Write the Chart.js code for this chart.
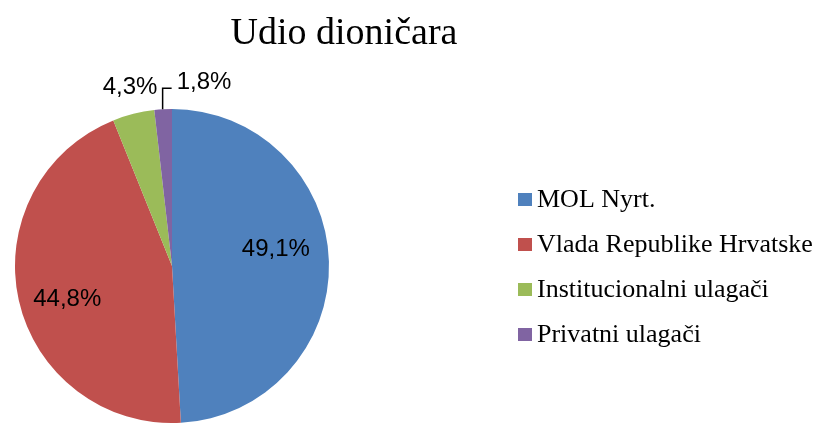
<!DOCTYPE html>
<html>
<head>
<meta charset="utf-8">
<script src="https://cdn.jsdelivr.net/npm/chart.js@4/dist/chart.umd.min.js"></script>
<style>
html,body{margin:0;padding:0;background:#fff;}
#wrap{position:relative;width:822px;height:423px;}
</style>
</head>
<body>
<div id="wrap"><canvas id="c" width="822" height="423"></canvas></div>
<script>
const chartTitle = "Udio dioničara";
const categories = ["MOL Nyrt.", "Vlada Republike Hrvatske", "Institucionalni ulagači", "Privatni ulagači"];
const shares = [49.1, 44.8, 4.3, 1.8];
const shareLabels = ["49,1%", "44,8%", "4,3%", "1,8%"];
const colors = ["#4F81BD", "#C0504D", "#9BBB59", "#8064A2"];

// label placement: angle offset (deg) and radius factor relative to slice geometry
const labelPlacement = [
  {r: 0.67, da: -7.5},
  {r: 0.70, da: -5},
  {r: 1.17, da: 1},
  {leader: true}
];

const overlay = {
  id: 'overlay',
  afterDraw(chart) {
    const ctx = chart.ctx;
    ctx.save();
    // title
    ctx.fillStyle = '#000';
    ctx.font = '38px "Liberation Serif", "Times New Roman", serif';
    ctx.textAlign = 'center';
    ctx.textBaseline = 'alphabetic';
    ctx.fillText(chartTitle, 344, 44);

    // legend
    ctx.font = '26px "Liberation Serif", "Times New Roman", serif';
    ctx.textAlign = 'left';
    categories.forEach((cat, i) => {
      const base = 207 + i * 45;
      ctx.fillStyle = colors[i];
      ctx.fillRect(518, base - 14, 14, 13);
      ctx.fillStyle = '#000';
      ctx.fillText(cat, 537, base);
    });

    // data labels
    const meta = chart.getDatasetMeta(0);
    ctx.font = '24px "Liberation Sans", Arial, sans-serif';
    ctx.textBaseline = 'middle';
    ctx.textAlign = 'center';
    meta.data.forEach((arc, i) => {
      const p = arc.getProps(['x', 'y', 'startAngle', 'endAngle', 'outerRadius'], true);
      const mid = (p.startAngle + p.endAngle) / 2;
      const pl = labelPlacement[i];
      ctx.fillStyle = '#000';
      if (pl.leader) {
        const lx = p.x + p.outerRadius * Math.cos(mid) - 0.5;
        const ly = p.y + p.outerRadius * Math.sin(mid);
        ctx.strokeStyle = '#000';
        ctx.lineWidth = 1.5;
        ctx.beginPath();
        ctx.moveTo(lx, ly);
        ctx.lineTo(lx, ly - 21);
        ctx.lineTo(lx + 9, ly - 21);
        ctx.stroke();
        ctx.textAlign = 'left';
        ctx.fillText(shareLabels[i], lx + 14, ly - 27);
        ctx.textAlign = 'center';
      } else {
        const a = mid + pl.da * Math.PI / 180;
        const rr = p.outerRadius * pl.r;
        ctx.fillText(shareLabels[i], p.x + rr * Math.cos(a), p.y + rr * Math.sin(a));
      }
    });
    ctx.restore();
  }
};

new Chart(document.getElementById('c'), {
  type: 'pie',
  data: {
    labels: categories,
    datasets: [{
      data: shares,
      backgroundColor: colors,
      borderWidth: 0
    }]
  },
  options: {
    responsive: false,
    animation: false,
    layout: {padding: {left: 14, right: 492, top: 109, bottom: -2}},
    plugins: {
      legend: {display: false},
      title: {display: false},
      tooltip: {enabled: false}
    }
  },
  plugins: [overlay]
});
</script>
</body>
</html>
